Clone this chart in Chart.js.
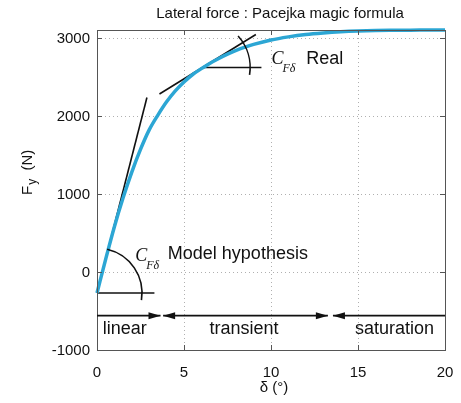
<!DOCTYPE html>
<html>
<head>
<meta charset="utf-8">
<script src="https://cdn.jsdelivr.net/npm/chart.js@4.4.0/dist/chart.umd.min.js"></script>
<style>
  html, body { margin: 0; padding: 0; background: #fff; }
</style>
</head>
<body>
<canvas id="chart" width="461" height="403"></canvas>
<script>
// curve
const delta = [0, 0.5, 1, 1.5, 2, 2.5, 3, 3.5, 4, 4.5, 5, 5.5, 6, 6.5, 7, 7.5, 8, 8.5, 9, 10, 11, 12, 13, 14, 15, 16, 17, 18, 19, 20];
const fy = [-270, 165, 580, 950, 1280, 1570, 1820, 2010, 2180, 2320, 2435, 2530, 2605, 2675, 2735, 2790, 2840, 2880, 2915, 2972, 3012, 3042, 3062, 3077, 3087, 3093, 3096, 3098, 3099, 3100];

const xTicks = [0, 5, 10, 15, 20];
const yTicks = [-1000, 0, 1000, 2000, 3000];

// tangent lines and their horizontal references
const modelTanX = [0, 2.87];
const modelTanY = [-270, 2236];
const modelBaseX = [0, 3.3];
const modelBaseY = [-270, -270];
const realTanX = [3.59, 9.13];
const realTanY = [2280, 3042];
const realBaseX = [6.1, 9.45];
const realBaseY = [2620, 2620];

// regions along the bottom
const regionFrom = [0, 3.8, 13.56];
const regionTo = [3.65, 13.27, 20];
const regionLabels = ["linear", "transient", "saturation"];
const regionLabelX = [1.6, 8.45, 17.1];
const arrowY = -560;
const regionLabelY = -800;

const pts = (xs, ys) => xs.map((x, i) => ({ x: x, y: ys[i] }));

const SANS = '"Liberation Sans", Arial, Helvetica, sans-serif';
const SERIF = '"Liberation Serif", "Times New Roman", serif';

const blackLine = (xs, ys) => ({
  data: pts(xs, ys),
  borderColor: "#111",
  borderWidth: 1.6,
  pointRadius: 0,
  clip: false,
});

const decor = {
  id: "decor",
  beforeDatasetsDraw(chart) {
    const { ctx, chartArea: a, scales } = chart;
    const sx = scales.x, sy = scales.y;
    ctx.save();
    // dotted grid
    ctx.strokeStyle = "#b0b0b0";
    ctx.lineWidth = 1;
    ctx.setLineDash([1, 3]);
    xTicks.slice(1, -1).forEach((v) => {
      const px = Math.round(sx.getPixelForValue(v)) + 0.5;
      ctx.beginPath(); ctx.moveTo(px, a.top); ctx.lineTo(px, a.bottom); ctx.stroke();
    });
    yTicks.slice(1).forEach((v) => {
      const py = Math.round(sy.getPixelForValue(v)) + 0.5;
      ctx.beginPath(); ctx.moveTo(a.left, py); ctx.lineTo(a.right, py); ctx.stroke();
    });
    ctx.setLineDash([]);
    ctx.restore();
  },
  afterDatasetsDraw(chart) {
    const { ctx, chartArea: a, scales } = chart;
    const sx = scales.x, sy = scales.y;
    const X = (v) => sx.getPixelForValue(v);
    const Y = (v) => sy.getPixelForValue(v);
    ctx.save();

    // box and inward ticks
    ctx.strokeStyle = "#555";
    ctx.lineWidth = 1;
    ctx.strokeRect(Math.round(a.left) + 0.5, Math.round(a.top) + 0.5,
      Math.round(a.right - a.left), Math.round(a.bottom - a.top));
    ctx.beginPath();
    xTicks.forEach((v) => {
      const px = Math.round(X(v)) + 0.5;
      ctx.moveTo(px, a.bottom); ctx.lineTo(px, a.bottom - 5);
      ctx.moveTo(px, a.top); ctx.lineTo(px, a.top + 5);
    });
    yTicks.forEach((v) => {
      const py = Math.round(Y(v)) + 0.5;
      ctx.moveTo(a.left, py); ctx.lineTo(a.left + 5, py);
      ctx.moveTo(a.right, py); ctx.lineTo(a.right - 5, py);
    });
    ctx.stroke();

    // tick labels
    ctx.fillStyle = "#111";
    ctx.font = "15px " + SANS;
    ctx.textAlign = "right";
    ctx.textBaseline = "middle";
    yTicks.forEach((v) => ctx.fillText(String(v), a.left - 7, Y(v) + 1));
    ctx.textAlign = "center";
    ctx.textBaseline = "alphabetic";
    xTicks.forEach((v) => ctx.fillText(String(v), X(v), a.bottom + 27));

    // titles
    ctx.font = "15px " + SANS;
    ctx.fillText("Lateral force : Pacejka magic formula", 280, 18);
    ctx.fillText("δ (°)", 274, 392);
    ctx.save();
    ctx.translate(32, 195);
    ctx.rotate(-Math.PI / 2);
    ctx.textAlign = "left";
    ctx.fillText("F", 0, 0);
    const wF = ctx.measureText("F").width;
    ctx.font = "12px " + SANS;
    ctx.fillText("y", wF + 1, 4);
    const wy = ctx.measureText("y").width;
    ctx.font = "15px " + SANS;
    ctx.fillText("  (N)", wF + wy + 1, 0);
    ctx.restore();

    // angle arcs
    ctx.strokeStyle = "#111";
    ctx.lineWidth = 1.6;
    const deg = Math.PI / 180;
    ctx.beginPath();
    ctx.arc(X(modelTanX[0]), Y(modelTanY[0]), 45, -77 * deg, 9 * deg);
    ctx.stroke();
    ctx.beginPath();
    ctx.arc(X(realBaseX[0]), Y(realBaseY[0]), 47, -42 * deg, 9 * deg);
    ctx.stroke();

    // C_Fδ labels
    const cLabel = (x, y) => {
      ctx.textAlign = "left";
      ctx.font = "italic 18px " + SERIF;
      ctx.fillText("C", x, y);
      const w = ctx.measureText("C").width;
      ctx.font = "italic 12px " + SERIF;
      ctx.fillText("Fδ", x + w - 1, y + 8);
    };
    cLabel(X(10.03), Y(2665));
    cLabel(X(2.2), Y(140));
    ctx.font = "18px " + SANS;
    ctx.fillText("Real", X(12.03), Y(2660));
    ctx.fillText("Model hypothesis", X(4.07), Y(170));

    // region arrows
    ctx.lineWidth = 1.8;
    ctx.fillStyle = "#111";
    const ay = Y(arrowY);
    const head = (px, dir) => {
      ctx.beginPath();
      ctx.moveTo(px, ay);
      ctx.lineTo(px - dir * 12, ay - 3.5);
      ctx.lineTo(px - dir * 12, ay + 3.5);
      ctx.closePath();
      ctx.fill();
    };
    regionFrom.forEach((f, i) => {
      const p0 = X(f), p1 = X(regionTo[i]);
      ctx.beginPath(); ctx.moveTo(p0, ay); ctx.lineTo(p1, ay); ctx.stroke();
      if (i > 0) head(p0, -1);
      if (i < regionFrom.length - 1) head(p1, 1);
    });
    ctx.font = "18px " + SANS;
    ctx.textAlign = "center";
    regionLabels.forEach((t, i) => ctx.fillText(t, X(regionLabelX[i]), Y(regionLabelY)));

    ctx.restore();
  },
};

new Chart(document.getElementById("chart"), {
  type: "line",
  data: {
    datasets: [
      {
        data: pts(delta, fy),
        borderColor: "#2ca6d4",
        borderWidth: 3.5,
        pointRadius: 0,
        tension: 0.4,
        cubicInterpolationMode: "monotone",
        clip: false,
      },
      blackLine(modelTanX, modelTanY),
      blackLine(modelBaseX, modelBaseY),
      blackLine(realTanX, realTanY),
      blackLine(realBaseX, realBaseY),
    ],
  },
  options: {
    responsive: false,
    animation: false,
    layout: { padding: { left: 97, right: 16, top: 30, bottom: 53 } },
    plugins: { legend: { display: false }, title: { display: false }, tooltip: { enabled: false } },
    scales: {
      x: { type: "linear", display: false, min: 0, max: 20 },
      y: { type: "linear", display: false, min: -1000, max: 3100 },
    },
  },
  plugins: [decor],
});
</script>
</body>
</html>
